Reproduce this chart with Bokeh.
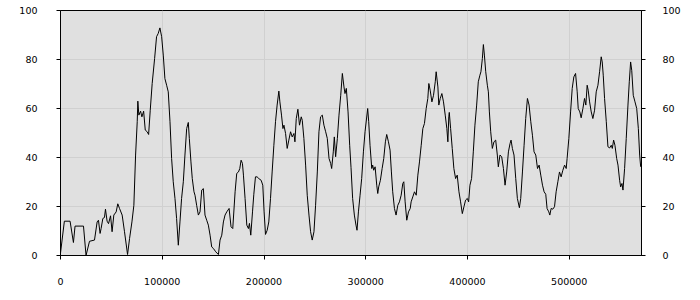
from bokeh.plotting import figure
from bokeh.models import Range1d, LinearAxis, FixedTicker, NumeralTickFormatter
from bokeh.embed import file_html
from bokeh.resources import INLINE

xs = [0, 3800, 9400, 12700, 14300, 22600, 25100, 28500, 33400, 36000, 37300, 38900, 39900, 41600,
      43200, 44200, 45800, 47200, 49200, 50700, 52400, 54700, 56300, 58000, 60600, 62900, 65900,
      67900, 70200, 72100, 73800, 75400, 76000, 77000, 78700, 80000, 81700, 83300, 85200, 86600,
      88200, 90100, 92500, 94400, 96000, 97700, 99400, 101000, 102600, 104300, 105900, 107600,
      109200, 110800, 112500, 114100, 115800, 117400, 119000, 120700, 122300, 124000, 125600,
      126600, 128200, 129500, 131200, 132200, 133800, 135500, 137100, 138800, 140400, 142000,
      143700, 145300, 147000, 148600, 150200, 152600, 155200, 156800, 158500, 160100, 161700,
      163400, 165700, 167600, 169300, 171600, 173200, 174900, 176200, 177500, 178800, 179800,
      181400, 183100, 184700, 185700, 187000, 188700, 190000, 191600, 193200, 194900, 197200,
      198800, 200100, 201500, 203100, 204700, 206400, 208000, 209700, 211300, 212900, 214600,
      215600, 217200, 218600, 219600, 221200, 222800, 224400, 226100, 227700, 229400, 230400,
      231700, 233300, 234900, 236600, 237600, 239200, 240900, 242500, 244200, 245800, 247400,
      249100, 250700, 252400, 254000, 255600, 257300, 258900, 260600, 262200, 263900, 265500,
      266500, 268100, 269100, 270400, 272100, 273700, 275400, 277000, 278600, 279600, 280900,
      282600, 284200, 285500, 287100, 288800, 290400, 291400, 292800, 294400, 296000, 297700,
      299300, 301900, 302900, 304200, 305900, 306800, 307800, 309200, 310800, 311800, 312700,
      314400, 316100, 317700, 319300, 320600, 322300, 323900, 325200, 326500, 328200, 329800,
      331500, 333100, 334800, 336400, 337400, 338700, 340300, 342000, 343700, 344600, 346200,
      347900, 349600, 351200, 352800, 354500, 356100, 357700, 359400, 361000, 362000, 363300,
      365000, 366600, 368300, 369200, 370900, 371800, 373200, 374800, 376400, 378100, 379700,
      380700, 381600, 382100, 383400, 385000, 386600, 388300, 389900, 391600, 393200, 394900,
      396500, 398100, 399800, 401100, 402400, 404000, 405700, 407300, 409000, 410600, 412200,
      413200, 414600, 415600, 416600, 417900, 419500, 420500, 421500, 422800, 424400, 426000,
      427700, 429300, 430300, 431900, 433600, 435300, 436900, 438500, 440200, 441800, 442800,
      444100, 445700, 447400, 449000, 451000, 452300, 454000, 455600, 457200, 458900, 460500,
      462200, 463800, 465400, 467100, 468800, 470400, 472000, 473700, 475300, 476900, 478200,
      479900, 480900, 482200, 483800, 485500, 487100, 488800, 490400, 492000, 493700, 495400,
      497000, 497900, 499600, 501300, 502900, 504500, 506200, 507800, 508800, 510400, 511700,
      513400, 515000, 516300, 517600, 518600, 520000, 521600, 523200, 524900, 526500, 528200,
      529800, 531400, 532400, 533400, 534700, 536400, 538000, 539700, 541300, 542300, 543600,
      544900, 546600, 547900, 549500, 550500, 551800, 552800, 554400, 556000, 557700, 559000,
      560300, 561400, 562900, 564600, 566300, 567900, 569200, 570200]

ys = [1, 14, 14, 5.3, 12, 12, 0, 5.8, 6.3, 13.7, 14.4, 9, 11, 15.1,
      15.5, 18.9, 14, 13, 16.2, 9.7, 16.5, 17.8, 21.1, 19.2, 16.5, 9.7, 0.4,
      7, 13.7, 20.5, 41, 54.6, 63, 57.3, 58.9, 56.6, 58.9, 51.2, 50.5, 49.4,
      59.3, 70.2, 80.4, 89.3, 90.6, 92.9, 89.3, 81.8, 72.2, 69.5, 66.8, 54.6,
      39.6, 30.1, 23.3, 15.1, 4.2, 13.7, 23.3, 30.1, 41, 51.8, 54.3,
      47.8, 38.2, 31.4, 26, 24.6, 20.5, 16.5, 17.8, 26.7, 27.3, 16.5,
      14.4, 12.4, 8.3, 3.5, 2.9, 1.5, 0.4, 6.3, 8.3, 13.7, 16.5,
      17.8, 19.2, 11.7, 11, 26, 33.5, 34.1, 35.5, 38.9, 37.6, 32.8,
      23.3, 12.4, 11, 13.1, 8.3, 17.8, 25, 32.1, 32.1, 31.4, 30.7,
      28.7, 17.8, 8.6, 10.3, 13.7, 23.3, 34.1, 45, 54.6, 61.4, 67.1,
      62.7, 57.3, 51.8, 53.2, 49.8, 43.7, 47.1, 50.5, 48.4, 49.8, 46.4,
      55.9, 59.7, 53.2, 56.6, 55.2, 47.8, 36.9, 24.6, 16.5, 9.7, 6.3,
      9.7, 20.5, 34.1, 50.5, 56.6, 57.3, 53.2, 50.5, 47.8, 39.6, 37.6,
      35.5, 42.3, 48.4, 40.3, 47.8, 57.3, 65.4, 74.3, 68.8, 66.1, 68.2,
      58.6, 45, 36, 23.3, 16.5, 12.4, 10.3, 17.8, 24.6, 31.4, 42.3,
      50.5, 60, 54.6, 45, 35.5, 36.9, 34.8, 36.2, 28.7, 25.3, 28,
      30.7, 35.5, 39.6, 46.4, 49.4, 46.4, 43, 34.1, 26, 19.2, 16.5,
      20.5, 21.9, 24.6, 29.4, 30.1, 21.9, 14.4, 17.8, 19.2, 21.9, 23.9,
      26, 24.6, 32.8, 38.2, 45, 51.8, 53.9, 60, 64.1, 70.2, 67.5,
      62.7, 65.4, 70.9, 75, 68.8, 61.4, 64.1, 66.1, 62.7, 57.3, 51.8,
      46.4, 56.6, 58.4, 51.8, 43.7, 35.5, 31.4, 32.8, 26, 21.9, 17.1,
      19.9, 22.6, 23.3, 21.9, 28.7, 31.4, 42.3, 53.2, 61.4, 70.9, 73.6,
      75, 80.4, 86.1, 81.8, 75, 69.5, 66.8, 58.6, 50.5, 43.7, 46.4,
      47.1, 41, 36.2, 41, 40.3, 35.5, 28.7, 34.1, 42.3, 45.7, 47.1,
      43.7, 41, 31.4, 23.3, 19.5, 23.3, 34.1, 45, 55.9, 64.1, 61.4,
      54.6, 49.1, 42.3, 41, 35.5, 36.9, 32.8, 28.7, 26, 25, 19.2,
      17.8, 16.5, 19.2, 18.9, 19.9, 26, 30.1, 34.1, 32.1, 34.8, 36.9,
      35.5, 39.6, 47.8, 58.6, 68.2, 72.9, 74.3, 66.8, 60, 58.6, 56.2,
      60, 64.1, 61.4, 69.5, 67.5, 62.7, 58.6, 55.9, 59.3, 66.8, 69.5,
      75, 81.1, 79, 73.6, 64.1, 54.6, 44.4, 43.9, 45, 43.7, 47.1,
      45, 39.6, 36.9, 30.7, 28, 29.4, 26.7, 35.5, 47.8, 61.4, 70.9,
      79, 75.6, 65.4, 62.7, 60, 51.8, 41, 36.2]

x_ticks = [0, 100000, 200000, 300000, 400000, 500000]
y_ticks = [0, 20, 40, 60, 80, 100]

FONT = "DejaVu Sans"
FSIZE = "9.5px"

p = figure(width=700, height=300, output_backend="svg", toolbar_location=None,
           x_range=Range1d(0, 571000), y_range=Range1d(0, 100),
           x_axis_location=None, y_axis_location=None,
           min_border_left=60, min_border_right=59, min_border_top=10, min_border_bottom=45)

p.background_fill_color = "#e0e0e0"
p.border_fill_color = "white"
p.outline_line_color = "black"
p.outline_line_width = 1
p.outline_line_alpha = 1


def style_axis(ax, ticks, standoff):
    ax.ticker = FixedTicker(ticks=ticks)
    ax.formatter = NumeralTickFormatter(format="0")
    ax.major_tick_out = 4
    ax.major_tick_in = 0
    ax.minor_tick_out = 0
    ax.minor_tick_in = 0
    ax.major_tick_line_color = "black"
    ax.axis_line_color = "black"
    ax.major_label_text_font = FONT
    ax.major_label_text_font_size = FSIZE
    ax.major_label_text_color = "black"
    ax.major_label_standoff = standoff


bottom = LinearAxis()
style_axis(bottom, x_ticks, 18)
p.add_layout(bottom, "below")

left = LinearAxis()
style_axis(left, y_ticks, 19)
p.add_layout(left, "left")

right = LinearAxis()
style_axis(right, y_ticks, 17)
p.add_layout(right, "right")

p.xgrid.ticker = FixedTicker(ticks=x_ticks)
p.ygrid.ticker = FixedTicker(ticks=y_ticks)
p.xgrid.grid_line_color = "#d0d0d0"
p.ygrid.grid_line_color = "#d0d0d0"

p.line(xs, ys, line_color="black", line_width=1)

open("out.html", "w").write(file_html(p, INLINE))
